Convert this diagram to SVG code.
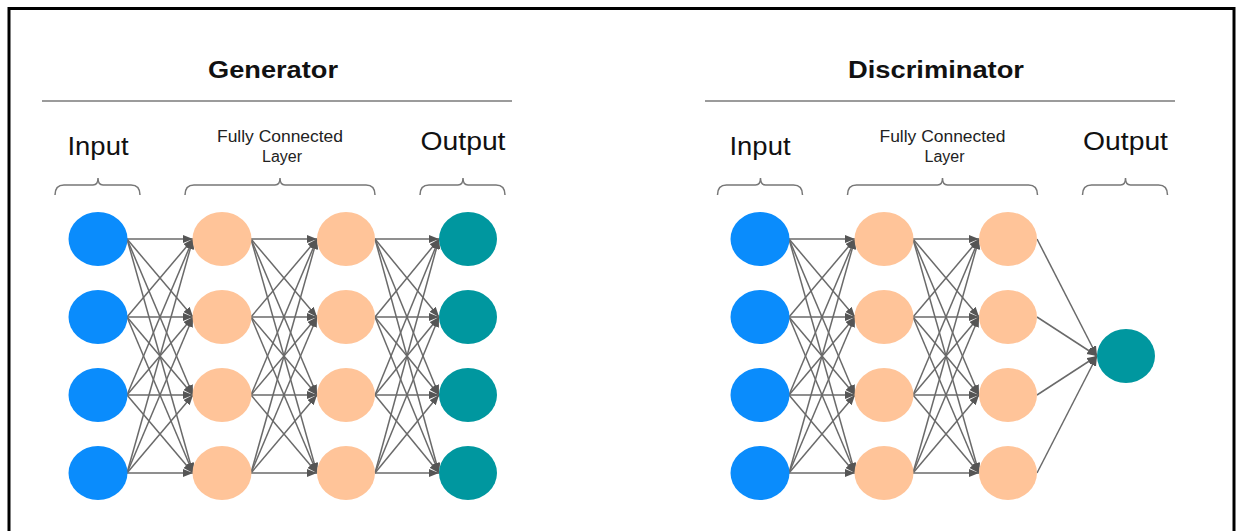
<svg xmlns="http://www.w3.org/2000/svg" width="1236" height="531" viewBox="0 0 1236 531">
<defs>
<marker id="ah" markerUnits="userSpaceOnUse" markerWidth="11" markerHeight="9" refX="10" refY="4" orient="auto"><path d="M0,0 L10,4 L0,8 z" fill="#555"/></marker>
<style>
.e{stroke:#6a6a6a;stroke-width:1.5;fill:none;marker-end:url(#ah)}
.in{fill:#0a8cfc}
.hid{fill:#ffc499}
.out{fill:#00979f}
.title{font-family:"Liberation Sans",Arial,sans-serif;font-weight:bold;font-size:23.5px;fill:#111}
.lbl{font-family:"Liberation Sans",Arial,sans-serif;font-size:26px;fill:#111}
.fc{font-family:"Liberation Sans",Arial,sans-serif;font-size:16px;fill:#222}
.rule{stroke:#7a7a7a;stroke-width:1.5}
.br{stroke:#777;stroke-width:1.5;fill:none}
</style>
</defs>
<rect width="1236" height="531" fill="#fff"/>
<rect x="9" y="8.5" width="1225" height="600" fill="none" stroke="#000" stroke-width="3"/>

<g id="generator-header">
<text class="title" x="273" y="78" text-anchor="middle" textLength="130" lengthAdjust="spacingAndGlyphs">Generator</text>
<line class="rule" x1="42" y1="101" x2="512" y2="101"/>
<text class="lbl" x="98" y="155" text-anchor="middle" textLength="61" lengthAdjust="spacingAndGlyphs">Input</text>
<text class="fc" x="280" y="142" text-anchor="middle" textLength="126" lengthAdjust="spacingAndGlyphs">Fully Connected</text>
<text class="fc" x="282" y="162" text-anchor="middle">Layer</text>
<text class="lbl" x="463" y="150" text-anchor="middle" textLength="85" lengthAdjust="spacingAndGlyphs">Output</text>
<path class="br" d="M55,195 Q55,185 64,185 L93,185 Q98,185 98,178 Q98,185 103,185 L131,185 Q140,185 140,195"/>
<path class="br" d="M185,195 Q185,185 194,185 L275,185 Q280,185 280,178 Q280,185 285,185 L366,185 Q375,185 375,195"/>
<path class="br" d="M420,195 Q420,185 429,185 L458,185 Q463,185 463,178 Q463,185 468,185 L496,185 Q505,185 505,195"/>
</g>

<g id="discriminator-header">
<text class="title" x="936" y="78" text-anchor="middle" textLength="176" lengthAdjust="spacingAndGlyphs">Discriminator</text>
<line class="rule" x1="705" y1="101" x2="1175" y2="101"/>
<text class="lbl" x="760" y="155" text-anchor="middle" textLength="61" lengthAdjust="spacingAndGlyphs">Input</text>
<text class="fc" x="942.5" y="142" text-anchor="middle" textLength="126" lengthAdjust="spacingAndGlyphs">Fully Connected</text>
<text class="fc" x="944.5" y="162" text-anchor="middle">Layer</text>
<text class="lbl" x="1125.5" y="150" text-anchor="middle" textLength="85" lengthAdjust="spacingAndGlyphs">Output</text>
<path class="br" d="M717.5,195 Q717.5,185 726.5,185 L755.5,185 Q760.5,185 760.5,178 Q760.5,185 765.5,185 L793.5,185 Q802.5,185 802.5,195"/>
<path class="br" d="M847.5,195 Q847.5,185 856.5,185 L937.5,185 Q942.5,185 942.5,178 Q942.5,185 947.5,185 L1028.5,185 Q1037.5,185 1037.5,195"/>
<path class="br" d="M1082.5,195 Q1082.5,185 1091.5,185 L1120.5,185 Q1125.5,185 1125.5,178 Q1125.5,185 1130.5,185 L1158.5,185 Q1167.5,185 1167.5,195"/>
</g>

<g id="connectors">
<line class="e" x1="127" y1="239" x2="193" y2="239"/><line class="e" x1="127" y1="239" x2="193" y2="317"/><line class="e" x1="127" y1="239" x2="193" y2="395"/><line class="e" x1="127" y1="239" x2="193" y2="473"/>
<line class="e" x1="127" y1="317" x2="193" y2="239"/><line class="e" x1="127" y1="317" x2="193" y2="317"/><line class="e" x1="127" y1="317" x2="193" y2="395"/><line class="e" x1="127" y1="317" x2="193" y2="473"/>
<line class="e" x1="127" y1="395" x2="193" y2="239"/><line class="e" x1="127" y1="395" x2="193" y2="317"/><line class="e" x1="127" y1="395" x2="193" y2="395"/><line class="e" x1="127" y1="395" x2="193" y2="473"/>
<line class="e" x1="127" y1="473" x2="193" y2="239"/><line class="e" x1="127" y1="473" x2="193" y2="317"/><line class="e" x1="127" y1="473" x2="193" y2="395"/><line class="e" x1="127" y1="473" x2="193" y2="473"/>
<line class="e" x1="251" y1="239" x2="317" y2="239"/><line class="e" x1="251" y1="239" x2="317" y2="317"/><line class="e" x1="251" y1="239" x2="317" y2="395"/><line class="e" x1="251" y1="239" x2="317" y2="473"/>
<line class="e" x1="251" y1="317" x2="317" y2="239"/><line class="e" x1="251" y1="317" x2="317" y2="317"/><line class="e" x1="251" y1="317" x2="317" y2="395"/><line class="e" x1="251" y1="317" x2="317" y2="473"/>
<line class="e" x1="251" y1="395" x2="317" y2="239"/><line class="e" x1="251" y1="395" x2="317" y2="317"/><line class="e" x1="251" y1="395" x2="317" y2="395"/><line class="e" x1="251" y1="395" x2="317" y2="473"/>
<line class="e" x1="251" y1="473" x2="317" y2="239"/><line class="e" x1="251" y1="473" x2="317" y2="317"/><line class="e" x1="251" y1="473" x2="317" y2="395"/><line class="e" x1="251" y1="473" x2="317" y2="473"/>
<line class="e" x1="375" y1="239" x2="439" y2="239"/><line class="e" x1="375" y1="239" x2="439" y2="317"/><line class="e" x1="375" y1="239" x2="439" y2="395"/><line class="e" x1="375" y1="239" x2="439" y2="473"/>
<line class="e" x1="375" y1="317" x2="439" y2="239"/><line class="e" x1="375" y1="317" x2="439" y2="317"/><line class="e" x1="375" y1="317" x2="439" y2="395"/><line class="e" x1="375" y1="317" x2="439" y2="473"/>
<line class="e" x1="375" y1="395" x2="439" y2="239"/><line class="e" x1="375" y1="395" x2="439" y2="317"/><line class="e" x1="375" y1="395" x2="439" y2="395"/><line class="e" x1="375" y1="395" x2="439" y2="473"/>
<line class="e" x1="375" y1="473" x2="439" y2="239"/><line class="e" x1="375" y1="473" x2="439" y2="317"/><line class="e" x1="375" y1="473" x2="439" y2="395"/><line class="e" x1="375" y1="473" x2="439" y2="473"/>
<line class="e" x1="789" y1="239" x2="855" y2="239"/><line class="e" x1="789" y1="239" x2="855" y2="317"/><line class="e" x1="789" y1="239" x2="855" y2="395"/><line class="e" x1="789" y1="239" x2="855" y2="473"/>
<line class="e" x1="789" y1="317" x2="855" y2="239"/><line class="e" x1="789" y1="317" x2="855" y2="317"/><line class="e" x1="789" y1="317" x2="855" y2="395"/><line class="e" x1="789" y1="317" x2="855" y2="473"/>
<line class="e" x1="789" y1="395" x2="855" y2="239"/><line class="e" x1="789" y1="395" x2="855" y2="317"/><line class="e" x1="789" y1="395" x2="855" y2="395"/><line class="e" x1="789" y1="395" x2="855" y2="473"/>
<line class="e" x1="789" y1="473" x2="855" y2="239"/><line class="e" x1="789" y1="473" x2="855" y2="317"/><line class="e" x1="789" y1="473" x2="855" y2="395"/><line class="e" x1="789" y1="473" x2="855" y2="473"/>
<line class="e" x1="913" y1="239" x2="979" y2="239"/><line class="e" x1="913" y1="239" x2="979" y2="317"/><line class="e" x1="913" y1="239" x2="979" y2="395"/><line class="e" x1="913" y1="239" x2="979" y2="473"/>
<line class="e" x1="913" y1="317" x2="979" y2="239"/><line class="e" x1="913" y1="317" x2="979" y2="317"/><line class="e" x1="913" y1="317" x2="979" y2="395"/><line class="e" x1="913" y1="317" x2="979" y2="473"/>
<line class="e" x1="913" y1="395" x2="979" y2="239"/><line class="e" x1="913" y1="395" x2="979" y2="317"/><line class="e" x1="913" y1="395" x2="979" y2="395"/><line class="e" x1="913" y1="395" x2="979" y2="473"/>
<line class="e" x1="913" y1="473" x2="979" y2="239"/><line class="e" x1="913" y1="473" x2="979" y2="317"/><line class="e" x1="913" y1="473" x2="979" y2="395"/><line class="e" x1="913" y1="473" x2="979" y2="473"/>
<line class="e" x1="1037" y1="239" x2="1097" y2="356"/><line class="e" x1="1037" y1="317" x2="1097" y2="356"/><line class="e" x1="1037" y1="395" x2="1097" y2="356"/><line class="e" x1="1037" y1="473" x2="1097" y2="356"/>
</g>

<g id="g-in-1"><ellipse class="in" cx="98" cy="239" rx="29.5" ry="27"/></g>
<g id="g-in-2"><ellipse class="in" cx="98" cy="317" rx="29.5" ry="27"/></g>
<g id="g-in-3"><ellipse class="in" cx="98" cy="395" rx="29.5" ry="27"/></g>
<g id="g-in-4"><ellipse class="in" cx="98" cy="473" rx="29.5" ry="27"/></g>
<g id="g-h1-1"><ellipse class="hid" cx="222" cy="239" rx="29.5" ry="27"/></g>
<g id="g-h1-2"><ellipse class="hid" cx="222" cy="317" rx="29.5" ry="27"/></g>
<g id="g-h1-3"><ellipse class="hid" cx="222" cy="395" rx="29.5" ry="27"/></g>
<g id="g-h1-4"><ellipse class="hid" cx="222" cy="473" rx="29.5" ry="27"/></g>
<g id="g-h2-1"><ellipse class="hid" cx="346" cy="239" rx="29" ry="27"/></g>
<g id="g-h2-2"><ellipse class="hid" cx="346" cy="317" rx="29" ry="27"/></g>
<g id="g-h2-3"><ellipse class="hid" cx="346" cy="395" rx="29" ry="27"/></g>
<g id="g-h2-4"><ellipse class="hid" cx="346" cy="473" rx="29" ry="27"/></g>
<g id="g-out-1"><ellipse class="out" cx="468" cy="239" rx="29" ry="27"/></g>
<g id="g-out-2"><ellipse class="out" cx="468" cy="317" rx="29" ry="27"/></g>
<g id="g-out-3"><ellipse class="out" cx="468" cy="395" rx="29" ry="27"/></g>
<g id="g-out-4"><ellipse class="out" cx="468" cy="473" rx="29" ry="27"/></g>

<g id="d-in-1"><ellipse class="in" cx="760" cy="239" rx="29.5" ry="27"/></g>
<g id="d-in-2"><ellipse class="in" cx="760" cy="317" rx="29.5" ry="27"/></g>
<g id="d-in-3"><ellipse class="in" cx="760" cy="395" rx="29.5" ry="27"/></g>
<g id="d-in-4"><ellipse class="in" cx="760" cy="473" rx="29.5" ry="27"/></g>
<g id="d-h1-1"><ellipse class="hid" cx="884" cy="239" rx="29.5" ry="27"/></g>
<g id="d-h1-2"><ellipse class="hid" cx="884" cy="317" rx="29.5" ry="27"/></g>
<g id="d-h1-3"><ellipse class="hid" cx="884" cy="395" rx="29.5" ry="27"/></g>
<g id="d-h1-4"><ellipse class="hid" cx="884" cy="473" rx="29.5" ry="27"/></g>
<g id="d-h2-1"><ellipse class="hid" cx="1008" cy="239" rx="29" ry="27"/></g>
<g id="d-h2-2"><ellipse class="hid" cx="1008" cy="317" rx="29" ry="27"/></g>
<g id="d-h2-3"><ellipse class="hid" cx="1008" cy="395" rx="29" ry="27"/></g>
<g id="d-h2-4"><ellipse class="hid" cx="1008" cy="473" rx="29" ry="27"/></g>
<g id="d-out"><ellipse class="out" cx="1126" cy="356" rx="29" ry="27"/></g>
</svg>
